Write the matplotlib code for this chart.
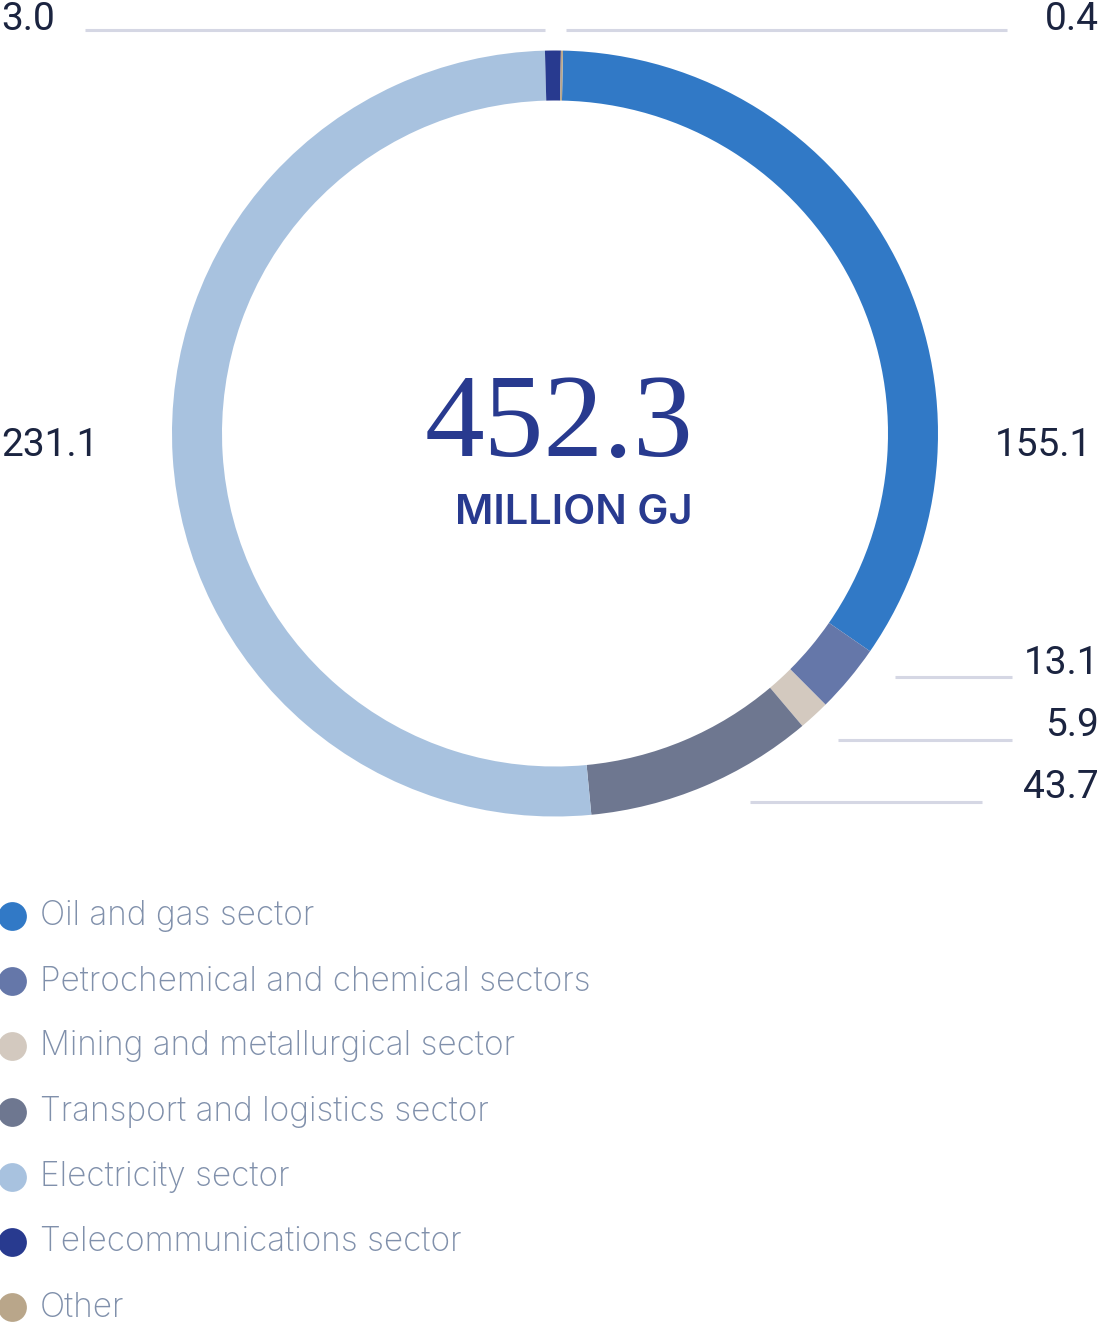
import numpy as np
import matplotlib
matplotlib.use("Agg")
from matplotlib import pyplot as plt

# sector energy consumption, million GJ
sectors = ['Oil and gas sector', 'Petrochemical and chemical sectors',
           'Mining and metallurgical sector', 'Transport and logistics sector',
           'Electricity sector', 'Telecommunications sector', 'Other']
values = [155.1, 13.1, 5.9, 43.7, 231.1, 3.0, 0.4]
colors = ['#3179c6', '#6577a9', '#d3c9bf', '#6e7790', '#a8c2df', '#283a8f', '#b9a68a']
total_label = '452.3'
unit_label = 'MILLION GJ'

W, H = 1100, 1328
fig = plt.figure(figsize=(W / 100, H / 100), dpi=100)
ax = fig.add_axes([0, 0, 1, 1])

def Y(py):
    return H - py

cx, cy, r = 555, 433.5, 383
ax.pie(values, colors=colors, startangle=88.8, counterclock=False,
       center=(cx, Y(cy)), radius=r, frame=True,
       wedgeprops=dict(width=50, linewidth=0))
ax.set_xlim(0, W)
ax.set_ylim(0, H)
ax.set_aspect('equal')
ax.axis('off')

# value labels with leader lines
lab_col = '#1b2440'
line_col = '#d5d7e4'
lab_font = dict(family=['Roboto', 'DejaVu Sans'], fontweight='normal', fontsize=28, color=lab_col)
# (x, y, ha, leader line (x0, x1, y))
label_pos = {
    'Oil and gas sector': (995, 445, 'left', None),
    'Petrochemical and chemical sectors': (1099, 663, 'right', (895, 1012, 677)),
    'Mining and metallurgical sector': (1099, 726, 'right', (838, 1012, 740)),
    'Transport and logistics sector': (1099, 788, 'right', (750, 982, 802)),
    'Electricity sector': (1, 445, 'left', None),
    'Telecommunications sector': (1, 20, 'left', (85, 545, 30)),
    'Other': (1099, 20, 'right', (566, 1007, 30)),
}
for name, v in zip(sectors, values):
    x, y, ha, ln = label_pos[name]
    ax.text(x, Y(y), f'{v:.1f}', ha=ha, va='center', **lab_font)
    if ln:
        ax.plot([ln[0], ln[1]], [Y(ln[2]), Y(ln[2])], color=line_col, lw=2.2,
                solid_capstyle='butt')

# centre text
ax.text(559, Y(427), total_label, ha='center', va='center', fontsize=86,
        family=['Liberation Serif', 'DejaVu Serif'], color='#283a8f')
ax.text(574, Y(513), unit_label, ha='center', va='center', fontsize=30,
        family=['Inter', 'DejaVu Sans'], fontweight='semibold', color='#283a8f')

# legend
leg_y = 916
for i, (name, c) in enumerate(zip(sectors, colors)):
    yy = Y(leg_y + i * 65.2)
    ax.scatter([12], [yy], s=430, color=c, linewidths=0)
    ax.text(40, yy, name, ha='left', va='center', fontsize=24,
            family=['Inter', 'DejaVu Sans'], fontweight='light', color='#8090ab')

fig.savefig('out.png', dpi=100)
